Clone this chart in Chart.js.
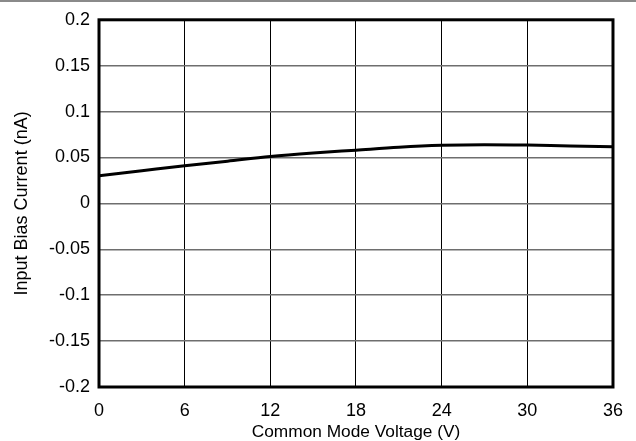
<!DOCTYPE html>
<html>
<head>
<meta charset="utf-8">
<script src="https://cdn.jsdelivr.net/npm/chart.js@4"></script>
<style>
  html, body { margin: 0; padding: 0; background: #fff; }
  #wrap { width: 636px; height: 441px; position: relative; }
</style>
</head>
<body>
<div id="wrap"><canvas id="bias-chart"></canvas></div>
<script>
// Input bias current vs common mode voltage
const voltage = [0, 3, 6, 9, 12, 15, 18, 21, 24, 27, 30, 33, 36];
const biasCurrent = [0.030, 0.0355, 0.041, 0.046, 0.051, 0.0548, 0.058, 0.0612, 0.0633, 0.064, 0.0635, 0.0625, 0.0618];
const xTicks = [0, 6, 12, 18, 24, 30, 36];
const yTicks = [-0.2, -0.15, -0.1, -0.05, 0, 0.05, 0.1, 0.15, 0.2];

const FONT = "'Liberation Sans', Arial, sans-serif";

// thick frame round the plot + thin gray rule at the very top
const framePlugin = {
    id: 'frame',
    afterDraw(chart) {
        const { ctx, chartArea: a } = chart;
        ctx.save();
        ctx.strokeStyle = '#000';
        ctx.lineWidth = 3;
        ctx.strokeRect(a.left, a.top, a.right - a.left, a.bottom - a.top);
        ctx.strokeStyle = '#8a8a8a';
        ctx.lineWidth = 2;
        ctx.beginPath();
        ctx.moveTo(0, 1);
        ctx.lineTo(chart.width, 1);
        ctx.stroke();
        ctx.restore();
    }
};

new Chart(document.getElementById('bias-chart'), {
    type: 'line',
    data: {
        datasets: [{
            data: voltage.map((v, i) => ({ x: v, y: biasCurrent[i] })),
            borderColor: '#000',
            borderWidth: 3,
            tension: 0.4,
            cubicInterpolationMode: 'monotone',
            pointRadius: 0,
            fill: false
        }]
    },
    options: {
        responsive: true,
        maintainAspectRatio: false,
        animation: false,
        layout: { padding: { top: 19, right: 22, left: 0, bottom: 0 } },
        plugins: { legend: { display: false }, tooltip: { enabled: false } },
        scales: {
            x: {
                type: 'linear',
                min: 0,
                max: 36,
                afterBuildTicks: s => { s.ticks = xTicks.map(v => ({ value: v })); },
                afterFit: s => { s.height = 54; },
                grid: { color: '#000', lineWidth: 1, drawTicks: false },
                border: { display: false },
                ticks: {
                    color: '#000',
                    font: { family: FONT, size: 18 },
                    padding: 13,
                    maxRotation: 0
                },
                title: {
                    display: true,
                    text: 'Common Mode Voltage (V)',
                    color: '#000',
                    font: { family: FONT, size: 17.3 },
                    padding: { top: 0, bottom: -2 }
                }
            },
            y: {
                min: -0.2,
                max: 0.2,
                afterBuildTicks: s => { s.ticks = yTicks.map(v => ({ value: v })); },
                afterFit: s => { s.width = 99; },
                grid: { color: '#6e6e6e', lineWidth: 1.5, drawTicks: false },
                border: { display: false },
                ticks: {
                    color: '#000',
                    font: { family: FONT, size: 18 },
                    padding: 9,
                    callback: v => String(Number(v.toFixed(2)))
                },
                title: {
                    display: true,
                    text: 'Input Bias Current (nA)',
                    color: '#000',
                    font: { family: FONT, size: 18 },
                    padding: { top: 11, bottom: 0 }
                }
            }
        }
    },
    plugins: [framePlugin]
});
</script>
</body>
</html>
